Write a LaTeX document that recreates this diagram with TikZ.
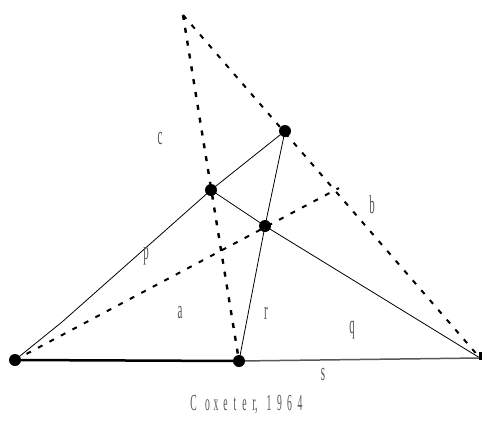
\documentclass[tikz,border=0pt]{standalone}
\usepackage{fontspec}
\newfontfamily\narrowserif[FakeStretch=0.42]{Liberation Serif}
\usetikzlibrary{positioning}
\definecolor{labelgray}{RGB}{85,85,85}

\begin{document}
\begin{tikzpicture}[x=1pt, y=-1pt,
    font=\narrowserif\fontsize{26}{28}\selectfont,
    vertex/.style={circle, fill=black, inner sep=0pt, minimum size=12pt},
    side/.style={line width=0.8pt, black},
    cevian/.style={line width=2.4pt, dash pattern=on 5pt off 8pt},
    lbl/.style={text=labelgray, inner sep=0pt},
    capletter/.style={lbl, anchor=base, font=\narrowserif\fontsize{23}{25}\selectfont}]
\useasboundingbox (0,0) rectangle (482,421);

% triangle corners and points
\coordinate (A) at (15,360);
\coordinate (M) at (239,361);
\coordinate (C) at (480,358);
\coordinate (T) at (285,131);
\coordinate (P) at (211,190);
\coordinate (R) at (265,226);
\coordinate (O) at (183,15);
\coordinate (E) at (339,188);
\coordinate (kink) at (62,322);

% solid lines
\draw[side] (A) -- (kink) -- (P) -- (T);
\draw[side] (P) -- (R) -- (C);
\draw[side] (T) -- (R) -- (M);
\draw[line width=2.5pt] (A) -- (M);
\draw[line width=1.5pt, black!65] (M) -- (C);

% dashed lines
\draw[cevian] (O) -- (M);
\draw[cevian, line width=2pt] (O) -- (C);
\draw[cevian, line width=2pt] (A) -- (E);

% dots
\node[vertex] (dotA) at (A) {};
\node[vertex] (dotM) at (M) {};
\node[vertex] (dotT) at (T) {};
\node[vertex] (dotP) at (P) {};
\node[vertex] (dotR) at (R) {};
\node[fill=black, inner sep=0pt, minimum width=3pt, minimum height=8pt] (dotC) at (480,356) {};

% labels
\node[lbl] (labc) at (160,138) {c};
\node[lbl] (labp) at (146,256) {p};
\node[lbl] (laba) at (180,313) {a};
\node[lbl] (labr) at (266,313) {r};
\node[lbl] (labq) at (352,330) {q};
\node[lbl] (labb) at (372,205) {b};
\node[lbl] (labs) at (323,374) {s};

% spaced-out caption
\foreach \ch/\xx [count=\i] in {C/193.5, o/207.5, x/216, e/225.5, t/235, e/244.5,
    {r,}/255, 1/269, 9/279.5, 6/289.5, 4/300}
  \node[capletter] (cap\i) at (\xx,410) {\ch};
\end{tikzpicture}
\end{document}
